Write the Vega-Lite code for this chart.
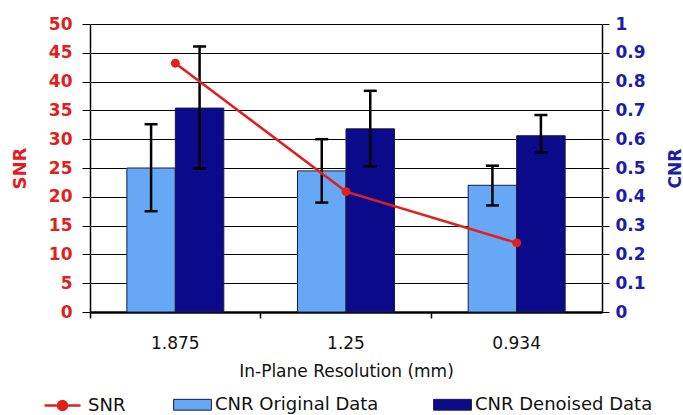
{
  "$schema": "https://vega.github.io/schema/vega-lite/v6.json",
  "width": 512,
  "height": 288,
  "autosize": {"type": "none"},
  "padding": {"left": 90, "top": 24, "right": 81, "bottom": 103},
  "background": "white",
  "config": {"view": {"stroke": null}, "font": "DejaVu Sans"},
  "datasets": {
    "cnr": [
      {"res": "1.875", "series": "CNR Original Data", "cnr": 0.50, "lo": 0.35, "hi": 0.652},
      {"res": "1.875", "series": "CNR Denoised Data", "cnr": 0.708, "lo": 0.498, "hi": 0.922},
      {"res": "1.25", "series": "CNR Original Data", "cnr": 0.49, "lo": 0.38, "hi": 0.60},
      {"res": "1.25", "series": "CNR Denoised Data", "cnr": 0.636, "lo": 0.506, "hi": 0.768},
      {"res": "0.934", "series": "CNR Original Data", "cnr": 0.44, "lo": 0.37, "hi": 0.508},
      {"res": "0.934", "series": "CNR Denoised Data", "cnr": 0.612, "lo": 0.554, "hi": 0.684}
    ],
    "snr": [
      {"res": "1.875", "series": "SNR", "snr": 43.2},
      {"res": "1.25", "series": "SNR", "snr": 20.9},
      {"res": "0.934", "series": "SNR", "snr": 12.0}
    ]
  },
  "layer": [
    {
      "data": {"name": "cnr"},
      "layer": [
        {
          "mark": {"type": "bar", "stroke": "#1a1a40", "strokeWidth": 1},
          "encoding": {
            "x": {
              "field": "res", "type": "nominal", "sort": ["1.875", "1.25", "0.934"],
              "title": "In-Plane Resolution (mm)",
              "scale": {"paddingInner": 0, "paddingOuter": 0},
              "axis": {
                "bandPosition": 0, "labelAngle": 0,
                "domainColor": "black", "domainWidth": 2.5, "tickColor": "black", "tickSize": 6, "tickWidth": 1.5,
                "labelFont": "DejaVu Sans", "labelFontSize": 17, "labelColor": "#111", "labelPadding": 17,
                "titleFont": "DejaVu Sans", "titleFontSize": 17, "titleFontWeight": "normal", "titleColor": "#111", "titlePadding": 12
              }
            },
            "xOffset": {"field": "series", "type": "nominal", "sort": ["CNR Original Data", "CNR Denoised Data"], "scale": {"paddingInner": 0, "paddingOuter": 0.76}},
            "y": {
              "field": "cnr", "type": "quantitative", "title": "CNR",
              "scale": {"domain": [0, 1]},
              "axis": {
                "orient": "right", "values": [0, 0.1, 0.2, 0.3, 0.4, 0.5, 0.6, 0.7, 0.8, 0.9, 1], "grid": false, "labelOverlap": false,
                "domainColor": "black", "domainWidth": 1.5, "tickColor": "black", "tickSize": 7, "tickWidth": 1,
                "labelFont": "DejaVu Sans", "labelFontWeight": "bold", "labelFontSize": 17, "labelColor": "#1c1ca8", "labelPadding": 6,
                "labelExpr": "datum.value == 0 ? '0' : datum.value == 1 ? '1' : format(datum.value, '.1f')",
                "titleFont": "DejaVu Sans", "titleFontWeight": "bold", "titleFontSize": 17, "titleColor": "#1c1ca8",
                "titleAngle": -90, "titleX": 73, "titleY": 144, "titleBaseline": "middle", "titleAlign": "center"
              }
            },
            "color": {
              "field": "series", "type": "nominal",
              "scale": {"domain": ["CNR Original Data", "CNR Denoised Data"], "range": ["#66a8f5", "#0a0a8a"]},
              "legend": {
                "orient": "none", "legendX": 84, "legendY": 362, "direction": "horizontal", "title": null,
                "padding": 0, "symbolSize": 1296, "symbolType": "M-1.05,-0.3H1.05V0.3H-1.05Z",
                "symbolStrokeWidth": 1, "symbolStrokeColor": "#1a1a40",
                "labelFont": "DejaVu Sans", "labelFontSize": 18, "labelColor": "#111",
                "labelLimit": 400, "columnPadding": 52, "labelOffset": 4, "symbolOpacity": 1
              }
            }
          }
        },
        {
          "mark": {"type": "rule", "color": "black", "strokeWidth": 2.5},
          "encoding": {
            "x": {"field": "res", "type": "nominal", "sort": ["1.875", "1.25", "0.934"], "title": "In-Plane Resolution (mm)"},
            "xOffset": {"field": "series", "type": "nominal", "sort": ["CNR Original Data", "CNR Denoised Data"]},
            "y": {"field": "lo", "type": "quantitative", "title": "CNR",
              "axis": {
                "orient": "right", "values": [0, 0.1, 0.2, 0.3, 0.4, 0.5, 0.6, 0.7, 0.8, 0.9, 1], "grid": false, "labelOverlap": false,
                "domainColor": "black", "domainWidth": 1.5, "tickColor": "black", "tickSize": 7, "tickWidth": 1,
                "labelFont": "DejaVu Sans", "labelFontWeight": "bold", "labelFontSize": 17, "labelColor": "#1c1ca8", "labelPadding": 6,
                "labelExpr": "datum.value == 0 ? '0' : datum.value == 1 ? '1' : format(datum.value, '.1f')",
                "titleFont": "DejaVu Sans", "titleFontWeight": "bold", "titleFontSize": 17, "titleColor": "#1c1ca8",
                "titleAngle": -90, "titleX": 73, "titleY": 144, "titleBaseline": "middle", "titleAlign": "center"
              }},
            "y2": {"field": "hi"}
          }
        },
        {
          "mark": {"type": "tick", "color": "black", "size": 13, "thickness": 2.5, "opacity": 1},
          "encoding": {
            "x": {"field": "res", "type": "nominal", "sort": ["1.875", "1.25", "0.934"], "title": "In-Plane Resolution (mm)"},
            "xOffset": {"field": "series", "type": "nominal", "sort": ["CNR Original Data", "CNR Denoised Data"]},
            "y": {"field": "lo", "type": "quantitative", "title": "CNR",
              "axis": {
                "orient": "right", "values": [0, 0.1, 0.2, 0.3, 0.4, 0.5, 0.6, 0.7, 0.8, 0.9, 1], "grid": false, "labelOverlap": false,
                "domainColor": "black", "domainWidth": 1.5, "tickColor": "black", "tickSize": 7, "tickWidth": 1,
                "labelFont": "DejaVu Sans", "labelFontWeight": "bold", "labelFontSize": 17, "labelColor": "#1c1ca8", "labelPadding": 6,
                "labelExpr": "datum.value == 0 ? '0' : datum.value == 1 ? '1' : format(datum.value, '.1f')",
                "titleFont": "DejaVu Sans", "titleFontWeight": "bold", "titleFontSize": 17, "titleColor": "#1c1ca8",
                "titleAngle": -90, "titleX": 73, "titleY": 144, "titleBaseline": "middle", "titleAlign": "center"
              }}
          }
        },
        {
          "mark": {"type": "tick", "color": "black", "size": 13, "thickness": 2.5, "opacity": 1},
          "encoding": {
            "x": {"field": "res", "type": "nominal", "sort": ["1.875", "1.25", "0.934"], "title": "In-Plane Resolution (mm)"},
            "xOffset": {"field": "series", "type": "nominal", "sort": ["CNR Original Data", "CNR Denoised Data"]},
            "y": {"field": "hi", "type": "quantitative", "title": "CNR",
              "axis": {
                "orient": "right", "values": [0, 0.1, 0.2, 0.3, 0.4, 0.5, 0.6, 0.7, 0.8, 0.9, 1], "grid": false, "labelOverlap": false,
                "domainColor": "black", "domainWidth": 1.5, "tickColor": "black", "tickSize": 7, "tickWidth": 1,
                "labelFont": "DejaVu Sans", "labelFontWeight": "bold", "labelFontSize": 17, "labelColor": "#1c1ca8", "labelPadding": 6,
                "labelExpr": "datum.value == 0 ? '0' : datum.value == 1 ? '1' : format(datum.value, '.1f')",
                "titleFont": "DejaVu Sans", "titleFontWeight": "bold", "titleFontSize": 17, "titleColor": "#1c1ca8",
                "titleAngle": -90, "titleX": 73, "titleY": 144, "titleBaseline": "middle", "titleAlign": "center"
              }}
          }
        }
      ]
    },
    {
      "data": {"name": "snr"},
      "layer": [
        {
          "mark": {"type": "line", "strokeWidth": 2.5},
          "encoding": {
            "x": {"field": "res", "type": "nominal", "sort": ["1.875", "1.25", "0.934"], "title": "In-Plane Resolution (mm)"},
            "y": {
              "field": "snr", "type": "quantitative", "title": "SNR",
              "scale": {"domain": [0, 50]},
              "axis": {
                "orient": "left", "values": [0, 5, 10, 15, 20, 25, 30, 35, 40, 45, 50], "grid": true, "labelOverlap": false,
                "gridColor": "black", "gridWidth": 1, "gridOpacity": 1,
                "domainColor": "black", "domainWidth": 1.5, "tickColor": "black", "tickSize": 8, "tickWidth": 1,
                "labelFont": "DejaVu Sans", "labelFontWeight": "bold", "labelFontSize": 17, "labelColor": "#e0201c", "labelPadding": 10,
                "titleFont": "DejaVu Sans", "titleFontWeight": "bold", "titleFontSize": 18, "titleColor": "#e0201c",
                "titleAngle": -90, "titleX": -70, "titleY": 144, "titleBaseline": "middle", "titleAlign": "center"
              }
            },
            "stroke": {
              "field": "series", "type": "nominal",
              "scale": {"domain": ["SNR"], "range": ["#e0201c"]},
              "legend": {
                "orient": "none", "legendX": -47, "legendY": 362, "direction": "horizontal", "title": null,
                "padding": 0, "symbolSize": 1296,
                "symbolType": "M-1,0H1M-0.25,0A0.25,0.25 0 1,1 0.25,0A0.25,0.25 0 1,1 -0.25,0Z",
                "symbolStrokeWidth": 2.5, "symbolFillColor": "#e0201c",
                "labelFont": "DejaVu Sans", "labelFontSize": 18, "labelColor": "#111",
                "labelLimit": 400, "labelOffset": 6, "symbolOpacity": 1
              }
            }
          }
        },
        {
          "mark": {"type": "point", "filled": true, "color": "#e0201c", "size": 80, "opacity": 1},
          "encoding": {
            "x": {"field": "res", "type": "nominal", "sort": ["1.875", "1.25", "0.934"], "title": "In-Plane Resolution (mm)"},
            "y": {"field": "snr", "type": "quantitative", "title": "SNR",
              "axis": {
                "orient": "left", "values": [0, 5, 10, 15, 20, 25, 30, 35, 40, 45, 50], "grid": true, "labelOverlap": false,
                "gridColor": "black", "gridWidth": 1, "gridOpacity": 1,
                "domainColor": "black", "domainWidth": 1.5, "tickColor": "black", "tickSize": 8, "tickWidth": 1,
                "labelFont": "DejaVu Sans", "labelFontWeight": "bold", "labelFontSize": 17, "labelColor": "#e0201c", "labelPadding": 10,
                "titleFont": "DejaVu Sans", "titleFontWeight": "bold", "titleFontSize": 18, "titleColor": "#e0201c",
                "titleAngle": -90, "titleX": -70, "titleY": 144, "titleBaseline": "middle", "titleAlign": "center"
              }}
          }
        }
      ]
    }
  ],
  "resolve": {"scale": {"y": "independent"}, "axis": {"y": "independent"}}
}
